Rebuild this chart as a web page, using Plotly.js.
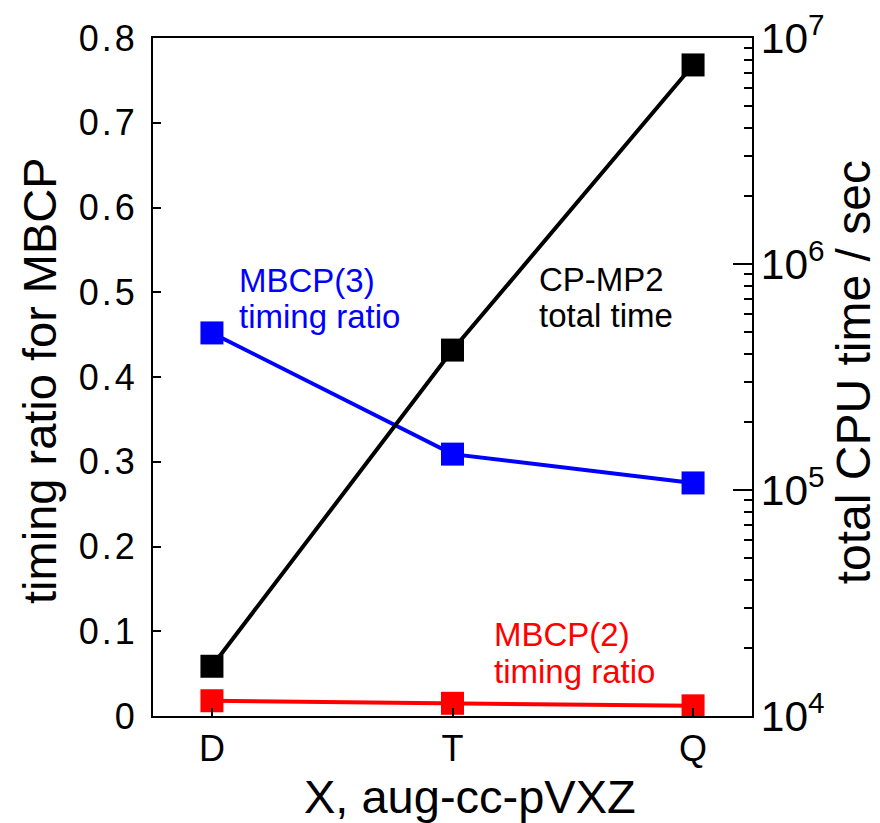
<!DOCTYPE html>
<html><head><meta charset="utf-8">
<script src="https://cdn.plot.ly/plotly-3.0.1.min.js"></script>
<style>body{margin:0;background:#fff}#c{width:880px;height:823px}
.ytick text{letter-spacing:3px}</style>
</head><body><div id="c"></div>
<script>
const categories = ["D", "T", "Q"];
const mbcp3Ratio = [0.452, 0.309, 0.275];
const mbcp2Ratio = [0.018, 0.015, 0.012];
const cpmp2Time = [16600, 416000, 7600000];
const leftTicks = [0, 0.1, 0.2, 0.3, 0.4, 0.5, 0.6, 0.7, 0.8];
const leftTickText = ["0", "0.1", "0.2", "0.3", "0.4", "0.5", "0.6", "0.7", "0.8"];

const font = "Liberation Sans, Arial, sans-serif";
const xIdx = categories.map((c, i) => i);
const mk = (color) => ({symbol: "square", size: 23, color: color});

const traces = [
  {x: xIdx, y: cpmp2Time, yaxis: "y2", mode: "lines+markers", line: {color: "#000", width: 4}, marker: mk("#000"), cliponaxis: false},
  {x: xIdx, y: mbcp3Ratio, mode: "lines+markers", line: {color: "#0000ff", width: 4}, marker: mk("#0000ff"), cliponaxis: false},
  {x: xIdx, y: mbcp2Ratio, mode: "lines+markers", line: {color: "#ff0000", width: 4}, marker: mk("#ff0000"), cliponaxis: false}
];

function ann(text, px, py, color, size, extra) {
  return Object.assign({xref: "paper", yref: "paper", x: px, y: py, xanchor: "left", yanchor: "middle",
    text: text, showarrow: false, borderpad: 0, font: {size: size, color: color, family: font}}, extra || {});
}

const layout = {
  width: 880, height: 823,
  margin: {l: 153, r: 128, t: 38, b: 107},
  showlegend: false,
  paper_bgcolor: "#fff", plot_bgcolor: "#fff",
  font: {family: font, color: "#000"},
  xaxis: {
    range: [-0.245, 2.245], tickvals: xIdx, ticktext: categories,
    ticks: "inside", ticklen: 8, tickwidth: 2, tickcolor: "#000",
    showline: true, linecolor: "#000", linewidth: 2, mirror: true,
    showgrid: false, zeroline: false,
    tickfont: {size: 36, family: font}
  },
  yaxis: {
    range: [0, 0.8], tickvals: leftTicks, ticktext: leftTickText,
    ticks: "inside", ticklen: 8, tickwidth: 2, tickcolor: "#000",
    ticklabelstandoff: 6,
    showline: true, linecolor: "#000", linewidth: 2,
    showgrid: false, zeroline: false,
    tickfont: {size: 36, family: font}
  },
  yaxis2: {
    type: "log", range: [4, 7], overlaying: "y", side: "right",
    dtick: 1, exponentformat: "power",
    ticks: "inside", ticklen: 19, tickwidth: 2, tickcolor: "#000",
    minor: {ticks: "inside", ticklen: 8, tickwidth: 2, tickcolor: "#000", showgrid: false},
    showline: true, linecolor: "#000", linewidth: 2,
    showgrid: false, zeroline: false,
    tickfont: {size: 34, family: font}
  },
  annotations: [
    ann("MBCP(3)", 0.1419, 0.6416, "#0000ff", 33),
    ann("timing ratio", 0.1419, 0.5892, "#0000ff", 33),
    ann("CP-MP2", 0.6427, 0.6431, "#000", 33),
    ann("total time", 0.6427, 0.5907, "#000", 33),
    ann("MBCP(2)", 0.5676, 0.1195, "#ff0000", 33),
    ann("timing ratio", 0.5676, 0.0656, "#ff0000", 33),
    ann("X, aug-cc-pVXZ", 0.53, -0.118, "#000", 47, {xanchor: "center"}),
    ann("timing ratio for MBCP", -0.1887, 0.4956, "#000", 47, {xanchor: "center", textangle: -90}),
    ann("total CPU time / sec", 1.1686, 0.507, "#000", 48, {xanchor: "center", textangle: -90})
  ]
};

Plotly.newPlot("c", traces, layout, {displayModeBar: false, staticPlot: true});
</script>
</body></html>
